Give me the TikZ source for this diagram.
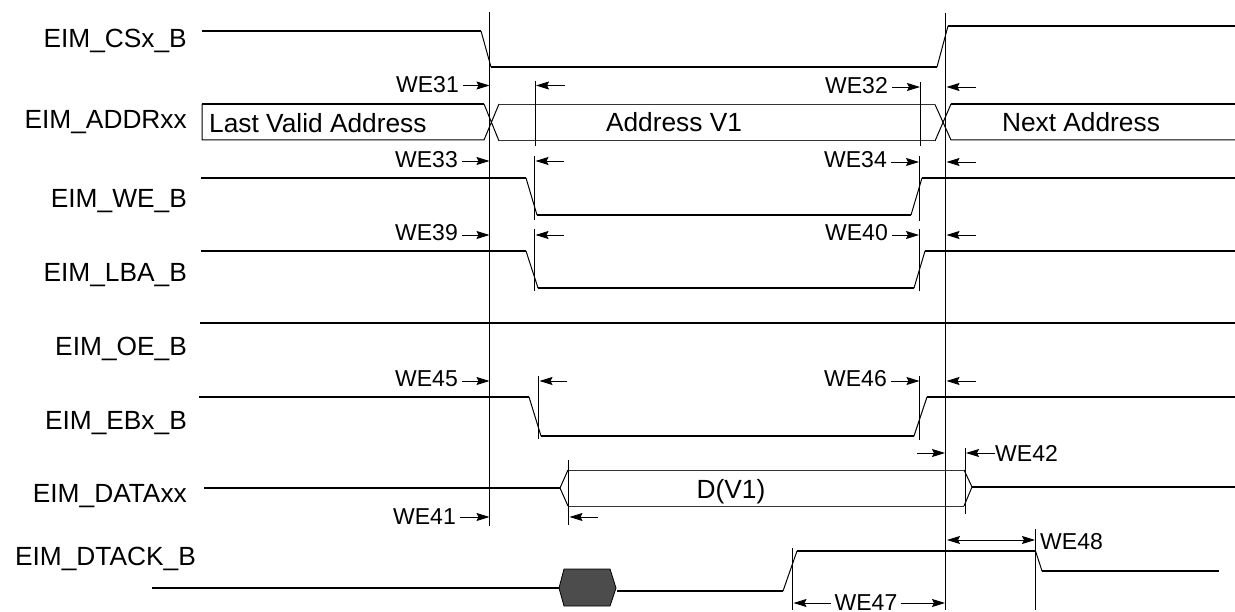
\documentclass[tikz,border=0pt]{standalone}
\usepackage{fontspec}
\setmainfont{Liberation Sans}
\usetikzlibrary{arrows.meta}
\tikzset{
  level/.style={line width=1.6pt},
  edge/.style={line width=1pt},
  bus/.style={line width=1pt,black!80},
  tick/.style={line width=0.85pt},
  tip/.style={Stealth[length=13pt,width=8pt,inset=2pt]},
  dim/.style={line width=0.8pt,-{Stealth[length=13pt,width=8pt,inset=2pt]}},
  dimboth/.style={line width=0.8pt,{Stealth[length=13pt,width=8pt,inset=2pt]}-{Stealth[length=13pt,width=8pt,inset=2pt]}},
  txt/.style={inner sep=0pt,font=\fontsize{23}{24}\selectfont},
  big/.style={inner sep=0pt,font=\fontsize{26.3}{28}\selectfont},
  sig/.style={big,anchor=base east}
}
\begin{document}
\begin{tikzpicture}[x=1pt,y=-1pt]
\useasboundingbox (0,0) rectangle (1235,612);
% signal names
\node[sig] (cs)   at (187,48)  {EIM\_CSx\_B};
\node[sig] (addr) at (187,129) {EIM\_ADDRxx};
\node[sig] (we)   at (187,208) {EIM\_WE\_B};
\node[sig] (lba)  at (187,282) {EIM\_LBA\_B};
\node[sig] (oe)   at (187,356) {EIM\_OE\_B};
\node[sig] (eb)   at (187,429) {EIM\_EBx\_B};
\node[sig] (data) at (187,502) {EIM\_DATAxx};
\node[sig] (dtack) at (196,565) {EIM\_DTACK\_B};
% tall markers
\draw[tick] (489.5,12) -- (489.5,526)
            (945.5,13) -- (945.5,610);
% chip select
\draw[level] (202,31) -- (481,31) (491,67) -- (937,67) (948,26) -- (1235,26);
\draw[edge]  (481,31) -- (491,67) (937,67) -- (948,26);
% address bus
\draw[level] (202,104) -- (484,104) (951,104) -- (1235,104);
\draw[edge]  (202,104) -- (202,140) -- (484,140) -- (499,104)
             (484,104) -- (499,141)
             (935,104.5) -- (951,140) -- (1235,140)
             (935,141) -- (951,104);
\draw[bus]   (499,104.5) -- (935,104.5) (499,141) -- (935,141);
\node[big,anchor=base west] (last) at (209,132.5) {Last Valid Address};
\node[big,anchor=base] (v1)   at (674,132) {Address V1};
\node[big,anchor=base] (next) at (1081,132) {Next Address};
% write enable
\draw[level] (201,178) -- (526,178) (537,215) -- (911,215) (922,178) -- (1235,178);
\draw[edge]  (526,178) -- (537,215) (911,215) -- (922,178);
% lba
\draw[level] (201,251) -- (526,251) (538,288) -- (914,288) (925,251) -- (1235,251);
\draw[edge]  (526,251) -- (538,288) (914,288) -- (925,251);
% oe
\draw[level] (200,323) -- (1235,323);
% byte enable
\draw[level] (199,397) -- (529,397) (541,436) -- (914,436) (927,397) -- (1235,397);
\draw[edge]  (529,397) -- (541,436) (914,436) -- (927,397);
% data
\draw[level] (204,488) -- (560,488) (972,487) -- (1235,487);
\draw[edge]  (560,488) -- (568,470) (560,488) -- (568,506)
             (964,470) -- (972,487) -- (964,506);
\draw[bus]   (568,470) -- (964,470) (568,506) -- (964,506);
\node[big,anchor=base] (dv1) at (731,498) {D(V1)};
% dtack
\draw[level] (152,588) -- (559,588) (617,591) -- (783,591) (797,551) -- (1035.5,551) (1042,571) -- (1219,571);
\draw[edge]  (783,591) -- (797,551) (1035.5,551) -- (1042,571);
\draw[fill=black!70,line width=0.8pt] (559,588) -- (564,569) -- (610,569) -- (616,588) -- (610,606) -- (564,606) -- cycle;
% short markers
\draw[tick] (535.5,81) -- (535.5,146)
            (920,82) -- (920,146)
            (534.5,156) -- (534.5,220)
            (919,156) -- (919,221)
            (534.5,229) -- (534.5,291)
            (919,229) -- (919,291)
            (538.5,376) -- (538.5,439)
            (919.5,376) -- (919.5,440)
            (568.5,460) -- (568.5,525)
            (965.5,448) -- (965.5,514)
            (792.5,548) -- (792.5,610)
            (1035.5,529) -- (1035.5,610);
% timing labels and arrows
\foreach \name/\xl/\yy/\yb in {WE31/459/85.5/92.5,WE33/458/161/168,WE39/458/235/241,WE45/458/381/387,WE41/456/517/524}{
  \node[txt,anchor=base east] (\name) at (\xl,\yb) {\name};
  \draw[dim] (\xl+4,\yy) -- (489.5,\yy);
}
\foreach \name/\xl/\xv/\yy/\yb in {WE32/888/920/87/93.5,WE34/887/919/162/168,WE40/888/919/235/241,WE46/887/919.5/381/387}{
  \node[txt,anchor=base east] (\name) at (\xl,\yb) {\name};
  \draw[dim] (\xl+4,\yy) -- (\xv,\yy);
  \draw[dim] (976,\yy) -- (946.5,\yy);
}
\draw[dim] (565,85.5) -- (536,85.5);
\draw[dim] (564,161) -- (535.5,161);
\draw[dim] (564,235) -- (535.5,235);
\draw[dim] (567,381) -- (539.5,381);
\draw[dim] (598,517) -- (569.5,517);
\draw[dim] (917,453) -- (945,453);
\node[txt,anchor=base west] (WE42) at (995,461) {WE42};
\draw[dim] (995,453) -- (966,453);
\node[txt,anchor=base west] (WE48) at (1040,549) {WE48};
\draw[dimboth] (947,540) -- (1035,540);
\node[txt,anchor=base] (WE47) at (866,610) {WE47};
\draw[dim] (WE47.west |- 0,603) ++(-3,0) -- (793.5,603);
\draw[dim] (WE47.east |- 0,603) ++(3,0) -- (945,603);
\end{tikzpicture}
\end{document}
